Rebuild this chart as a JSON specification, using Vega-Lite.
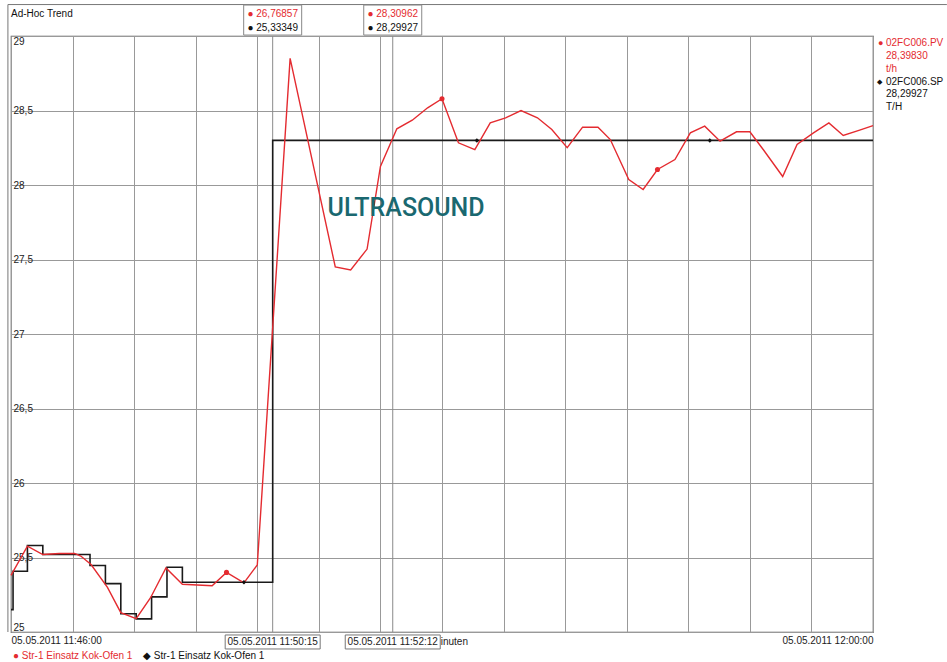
{
  "$schema": "https://vega.github.io/schema/vega-lite/v6.json",
  "width": 862,
  "height": 596,
  "autosize": {"type": "none"},
  "padding": {"left": 11, "top": 36, "right": 74, "bottom": 30},
  "background": "white",
  "config": {
    "view": {"stroke": "#555", "strokeWidth": 1.2},
    "font": "Liberation Sans",
    "text": {"font": "Liberation Sans", "fontSize": 10}
  },
  "data": {"values": [{}]},
  "datasets": {
    "pv": [
      {"time": "2011-05-05T11:46:00", "value": 25.38},
      {"time": "2011-05-05T11:46:16", "value": 25.576},
      {"time": "2011-05-05T11:46:31", "value": 25.52},
      {"time": "2011-05-05T11:46:47", "value": 25.527},
      {"time": "2011-05-05T11:47:02", "value": 25.527},
      {"time": "2011-05-05T11:47:08", "value": 25.51},
      {"time": "2011-05-05T11:47:18", "value": 25.453},
      {"time": "2011-05-05T11:47:34", "value": 25.30},
      {"time": "2011-05-05T11:47:47", "value": 25.13},
      {"time": "2011-05-05T11:48:02", "value": 25.09},
      {"time": "2011-05-05T11:48:16", "value": 25.23},
      {"time": "2011-05-05T11:48:31", "value": 25.43},
      {"time": "2011-05-05T11:48:47", "value": 25.32},
      {"time": "2011-05-05T11:49:16", "value": 25.31},
      {"time": "2011-05-05T11:49:30", "value": 25.40},
      {"time": "2011-05-05T11:49:47", "value": 25.33},
      {"time": "2011-05-05T11:50:00", "value": 25.45},
      {"time": "2011-05-05T11:50:32", "value": 28.85},
      {"time": "2011-05-05T11:51:16", "value": 27.45},
      {"time": "2011-05-05T11:51:31", "value": 27.43},
      {"time": "2011-05-05T11:51:47", "value": 27.57},
      {"time": "2011-05-05T11:52:00", "value": 28.125},
      {"time": "2011-05-05T11:52:16", "value": 28.377},
      {"time": "2011-05-05T11:52:31", "value": 28.435},
      {"time": "2011-05-05T11:52:46", "value": 28.518},
      {"time": "2011-05-05T11:53:00", "value": 28.579},
      {"time": "2011-05-05T11:53:16", "value": 28.283},
      {"time": "2011-05-05T11:53:32", "value": 28.238},
      {"time": "2011-05-05T11:53:47", "value": 28.417},
      {"time": "2011-05-05T11:54:02", "value": 28.451},
      {"time": "2011-05-05T11:54:17", "value": 28.50},
      {"time": "2011-05-05T11:54:33", "value": 28.451},
      {"time": "2011-05-05T11:54:47", "value": 28.372},
      {"time": "2011-05-05T11:55:02", "value": 28.25},
      {"time": "2011-05-05T11:55:17", "value": 28.388},
      {"time": "2011-05-05T11:55:32", "value": 28.388},
      {"time": "2011-05-05T11:55:44", "value": 28.305},
      {"time": "2011-05-05T11:56:02", "value": 28.037},
      {"time": "2011-05-05T11:56:16", "value": 27.97},
      {"time": "2011-05-05T11:56:30", "value": 28.104},
      {"time": "2011-05-05T11:56:47", "value": 28.171},
      {"time": "2011-05-05T11:57:02", "value": 28.35},
      {"time": "2011-05-05T11:57:16", "value": 28.395},
      {"time": "2011-05-05T11:57:31", "value": 28.294},
      {"time": "2011-05-05T11:57:47", "value": 28.357},
      {"time": "2011-05-05T11:58:00", "value": 28.357},
      {"time": "2011-05-05T11:58:13", "value": 28.238},
      {"time": "2011-05-05T11:58:32", "value": 28.057},
      {"time": "2011-05-05T11:58:46", "value": 28.272},
      {"time": "2011-05-05T11:59:02", "value": 28.35},
      {"time": "2011-05-05T11:59:17", "value": 28.417},
      {"time": "2011-05-05T11:59:31", "value": 28.332},
      {"time": "2011-05-05T11:59:47", "value": 28.368},
      {"time": "2011-05-05T12:00:00", "value": 28.398}
    ],
    "sp": [
      {"time": "2011-05-05T11:46:00", "value": 25.15},
      {"time": "2011-05-05T11:46:02", "value": 25.408},
      {"time": "2011-05-05T11:46:16", "value": 25.581},
      {"time": "2011-05-05T11:46:31", "value": 25.52},
      {"time": "2011-05-05T11:47:17", "value": 25.446},
      {"time": "2011-05-05T11:47:32", "value": 25.325},
      {"time": "2011-05-05T11:47:47", "value": 25.122},
      {"time": "2011-05-05T11:48:02", "value": 25.088},
      {"time": "2011-05-05T11:48:17", "value": 25.236},
      {"time": "2011-05-05T11:48:32", "value": 25.435},
      {"time": "2011-05-05T11:48:47", "value": 25.33349},
      {"time": "2011-05-05T11:50:15", "value": 28.29927},
      {"time": "2011-05-05T12:00:00", "value": 28.29927}
    ],
    "pvmark": [
      {"time": "2011-05-05T11:49:30", "value": 25.40},
      {"time": "2011-05-05T11:53:00", "value": 28.579},
      {"time": "2011-05-05T11:56:30", "value": 28.104}
    ],
    "spmark": [
      {"time": "2011-05-05T11:49:47", "value": 25.33349},
      {"time": "2011-05-05T11:53:34", "value": 28.29927},
      {"time": "2011-05-05T11:57:21", "value": 28.29927}
    ],
    "cursors": [
      {"time": "2011-05-05T11:50:15", "pv": 26.76857, "sp": 25.33349},
      {"time": "2011-05-05T11:52:12", "pv": 28.30962, "sp": 28.29927}
    ]
  },
  "layer": [
    {
      "data": {"name": "cursors"},
      "mark": {"type": "rule", "color": "#8a8a8a", "strokeWidth": 1},
      "encoding": {
        "x": {
          "field": "time", "type": "temporal",
          "scale": {"domain": [
            {"year": 2011, "month": 5, "date": 5, "hours": 11, "minutes": 46, "seconds": 0},
            {"year": 2011, "month": 5, "date": 5, "hours": 12, "minutes": 0, "seconds": 0}
          ]},
          "axis": {
            "title": null,
            "values": [
              {"year": 2011, "month": 5, "date": 5, "hours": 11, "minutes": 46},
              {"year": 2011, "month": 5, "date": 5, "hours": 11, "minutes": 47},
              {"year": 2011, "month": 5, "date": 5, "hours": 11, "minutes": 48},
              {"year": 2011, "month": 5, "date": 5, "hours": 11, "minutes": 49},
              {"year": 2011, "month": 5, "date": 5, "hours": 11, "minutes": 50},
              {"year": 2011, "month": 5, "date": 5, "hours": 11, "minutes": 51},
              {"year": 2011, "month": 5, "date": 5, "hours": 11, "minutes": 52},
              {"year": 2011, "month": 5, "date": 5, "hours": 11, "minutes": 53},
              {"year": 2011, "month": 5, "date": 5, "hours": 11, "minutes": 54},
              {"year": 2011, "month": 5, "date": 5, "hours": 11, "minutes": 55},
              {"year": 2011, "month": 5, "date": 5, "hours": 11, "minutes": 56},
              {"year": 2011, "month": 5, "date": 5, "hours": 11, "minutes": 57},
              {"year": 2011, "month": 5, "date": 5, "hours": 11, "minutes": 58},
              {"year": 2011, "month": 5, "date": 5, "hours": 11, "minutes": 59},
              {"year": 2011, "month": 5, "date": 5, "hours": 12, "minutes": 0}
            ],
            "grid": true, "gridColor": "#999", "gridWidth": 1,
            "domain": false, "ticks": false, "tickSize": 0,
            "labelExpr": "(minutes(datum.value) == 46 || minutes(datum.value) == 0) ? timeFormat(datum.value, '%d.%m.%Y %H:%M:%S') : ''",
            "labelFlush": true, "labelOverlap": false, "labelPadding": 3,
            "labelBaseline": "top", "labelFont": "Liberation Sans", "labelFontSize": 10, "labelColor": "#222"
          }
        }
      }
    },
    {
      "data": {"name": "sp"},
      "mark": {"type": "line", "interpolate": "step-after", "color": "#1a1a1a", "strokeWidth": 1.6},
      "encoding": {
        "x": {"field": "time", "type": "temporal"},
        "y": {
          "field": "value", "type": "quantitative",
          "scale": {"domain": [25, 29], "nice": false, "zero": false},
          "axis": {
            "title": null,
            "values": [25, 25.5, 26, 26.5, 27, 27.5, 28, 28.5, 29],
            "format": "~g",
            "grid": true, "gridColor": "#999", "gridWidth": 1,
            "domain": false, "ticks": false, "tickSize": 0,
            "labelAlign": "left", "labelPadding": -2,
            "labelFlush": true, "labelExpr": "replace(datum.label, '.', ',')",
            "labelFont": "Liberation Sans", "labelFontSize": 10, "labelColor": "#222"
          }
        }
      }
    },
    {
      "data": {"name": "pv"},
      "mark": {"type": "line", "color": "#e42b30", "strokeWidth": 1.4},
      "encoding": {
        "x": {"field": "time", "type": "temporal"},
        "y": {"field": "value", "type": "quantitative"}
      }
    },
    {
      "data": {"name": "pvmark"},
      "mark": {"type": "point", "filled": true, "color": "#e42b30", "size": 26, "opacity": 1},
      "encoding": {
        "x": {"field": "time", "type": "temporal"},
        "y": {"field": "value", "type": "quantitative"}
      }
    },
    {
      "data": {"name": "spmark"},
      "mark": {"type": "point", "shape": "diamond", "filled": true, "color": "#111", "size": 20, "opacity": 1},
      "encoding": {
        "x": {"field": "time", "type": "temporal"},
        "y": {"field": "value", "type": "quantitative"}
      }
    },
    {
      "mark": {"type": "rule", "color": "#777", "strokeWidth": 1},
      "encoding": {
        "x": {"datum": {"year": 2011, "month": 5, "date": 5, "hours": 11, "minutes": 45, "seconds": 57}, "type": "temporal"},
        "x2": {"datum": {"year": 2011, "month": 5, "date": 5, "hours": 12, "minutes": 1, "seconds": 12}},
        "y": {"datum": 29.211, "type": "quantitative"}
      }
    },
    {
      "mark": {"type": "rule", "color": "#777", "strokeWidth": 1},
      "encoding": {
        "x": {"datum": {"year": 2011, "month": 5, "date": 5, "hours": 11, "minutes": 45, "seconds": 57}, "type": "temporal"},
        "y": {"datum": 29.211, "type": "quantitative"},
        "y2": {"datum": 25}
      }
    },
    {
      "data": {"name": "cursors"},
      "mark": {"type": "rect", "fill": "white", "stroke": "#888", "strokeWidth": 1, "width": 58, "height": 30},
      "encoding": {
        "x": {"field": "time", "type": "temporal"},
        "y": {"datum": 29.107, "type": "quantitative"}
      }
    },
    {
      "data": {"name": "cursors"},
      "transform": [{"calculate": "'● ' + replace(format(datum.pv, '.5f'), '.', ',')", "as": "pvlabel"}],
      "mark": {"type": "text", "color": "#e42b30", "align": "center", "baseline": "middle", "dy": -22, "fontSize": 10},
      "encoding": {
        "x": {"field": "time", "type": "temporal"},
        "y": {"datum": 29, "type": "quantitative"},
        "text": {"field": "pvlabel"}
      }
    },
    {
      "data": {"name": "cursors"},
      "transform": [{"calculate": "'● ' + replace(format(datum.sp, '.5f'), '.', ',')", "as": "splabel"}],
      "mark": {"type": "text", "color": "#111", "align": "center", "baseline": "middle", "dy": -8, "fontSize": 10},
      "encoding": {
        "x": {"field": "time", "type": "temporal"},
        "y": {"datum": 29, "type": "quantitative"},
        "text": {"field": "splabel"}
      }
    },
    {
      "data": {"name": "cursors"},
      "mark": {"type": "rect", "fill": "white", "stroke": "#777", "strokeWidth": 1, "width": 95, "height": 14},
      "encoding": {
        "x": {"field": "time", "type": "temporal"},
        "y": {"datum": 24.933, "type": "quantitative"}
      }
    },
    {
      "data": {"name": "cursors"},
      "mark": {"type": "text", "color": "#222", "align": "center", "baseline": "middle", "fontSize": 10},
      "encoding": {
        "x": {"field": "time", "type": "temporal"},
        "y": {"datum": 24.933, "type": "quantitative"},
        "text": {"field": "time", "type": "temporal", "format": "%d.%m.%Y %H:%M:%S"}
      }
    },
    {
      "mark": {"type": "text", "color": "#222", "align": "left", "baseline": "middle", "dx": 48, "fontSize": 10},
      "encoding": {
        "x": {"datum": {"year": 2011, "month": 5, "date": 5, "hours": 11, "minutes": 52, "seconds": 12}, "type": "temporal"},
        "y": {"datum": 24.933, "type": "quantitative"},
        "text": {"value": "inuten"}
      }
    },
    {
      "mark": {"type": "text", "color": "#111", "align": "left", "baseline": "middle", "dy": -22, "fontSize": 10},
      "encoding": {
        "x": {"datum": {"year": 2011, "month": 5, "date": 5, "hours": 11, "minutes": 46, "seconds": 0}, "type": "temporal"},
        "y": {"datum": 29, "type": "quantitative"},
        "text": {"value": "Ad-Hoc Trend"}
      }
    },
    {
      "mark": {"type": "text", "color": "#e42b30", "align": "left", "baseline": "middle", "dx": 5, "dy": 7, "fontSize": 9},
      "encoding": {
        "x": {"datum": {"year": 2011, "month": 5, "date": 5, "hours": 12, "minutes": 0, "seconds": 0}, "type": "temporal"},
        "y": {"datum": 29, "type": "quantitative"},
        "text": {"value": "●"}
      }
    },
    {
      "mark": {"type": "text", "color": "#111", "align": "left", "baseline": "middle", "dx": 4, "dy": 45.5, "fontSize": 7},
      "encoding": {
        "x": {"datum": {"year": 2011, "month": 5, "date": 5, "hours": 12, "minutes": 0, "seconds": 0}, "type": "temporal"},
        "y": {"datum": 29, "type": "quantitative"},
        "text": {"value": "◆"}
      }
    },
    {
      "mark": {"type": "text", "color": "#e42b30", "align": "left", "baseline": "top", "dx": 13, "dy": 2, "fontSize": 10, "lineHeight": 12.8},
      "encoding": {
        "x": {"datum": {"year": 2011, "month": 5, "date": 5, "hours": 12, "minutes": 0, "seconds": 0}, "type": "temporal"},
        "y": {"datum": 29, "type": "quantitative"},
        "text": {"value": ["02FC006.PV", "28,39830", "t/h"]}
      }
    },
    {
      "mark": {"type": "text", "color": "#111", "align": "left", "baseline": "top", "dx": 13, "dy": 40.5, "fontSize": 10, "lineHeight": 12.8},
      "encoding": {
        "x": {"datum": {"year": 2011, "month": 5, "date": 5, "hours": 12, "minutes": 0, "seconds": 0}, "type": "temporal"},
        "y": {"datum": 29, "type": "quantitative"},
        "text": {"value": ["02FC006.SP", "28,29927", "T/H"]}
      }
    },
    {
      "mark": {"type": "text", "color": "#e42b30", "align": "left", "baseline": "middle", "dx": 2, "dy": 24, "fontSize": 10},
      "encoding": {
        "x": {"datum": {"year": 2011, "month": 5, "date": 5, "hours": 11, "minutes": 46, "seconds": 0}, "type": "temporal"},
        "y": {"datum": 25, "type": "quantitative"},
        "text": {"value": "● Str-1 Einsatz Kok-Ofen 1"}
      }
    },
    {
      "mark": {"type": "text", "color": "#111", "align": "left", "baseline": "middle", "dx": 132, "dy": 24, "fontSize": 10},
      "encoding": {
        "x": {"datum": {"year": 2011, "month": 5, "date": 5, "hours": 11, "minutes": 46, "seconds": 0}, "type": "temporal"},
        "y": {"datum": 25, "type": "quantitative"},
        "text": {"value": "◆ Str-1 Einsatz Kok-Ofen 1"}
      }
    },
    {
      "mark": {"type": "text", "color": "#1a6870", "align": "center", "baseline": "alphabetic", "font": "Roboto", "fontWeight": 500, "fontSize": 25},
      "encoding": {
        "x": {"datum": {"year": 2011, "month": 5, "date": 5, "hours": 11, "minutes": 52, "seconds": 25}, "type": "temporal"},
        "y": {"datum": 27.79, "type": "quantitative"},
        "text": {"value": "ULTRASOUND"}
      }
    }
  ]
}
